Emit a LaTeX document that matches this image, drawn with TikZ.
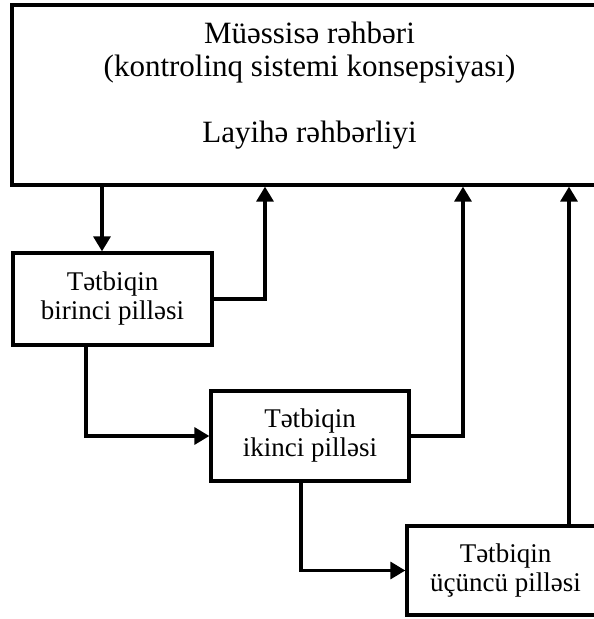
\documentclass[tikz,border=0pt]{standalone}
\usepackage{fontspec}
\setmainfont{Liberation Serif}
\usepackage{tikz}
\usetikzlibrary{arrows.meta}
\usetikzlibrary{positioning}

\tikzset{
  bigbox/.style={draw, line width=3.3pt, minimum width=595pt, minimum height=180pt,
    align=center, inner sep=0pt, text depth=26pt, font=\fontsize{31}{33}\selectfont},
  stagebox/.style={draw, line width=3.3pt, align=center, inner sep=0pt,
    font=\fontsize{27}{29}\selectfont},
  arr/.style={line width=3.3pt, arrows = {-Triangle[length=15pt, width=17pt]}}
}

\begin{document}
\begin{tikzpicture}[x=1pt,y=-1pt]
\clip (0,0) rectangle (594,619);
\node[bigbox] (top) at (309.5,95) {Müəssisə rəhbəri\\(kontrolinq sistemi konsepsiyası)\\[33pt]Layihə rəhbərliyi};
\node[stagebox, minimum width=199pt, minimum height=92pt] (st1) at (112.5,299) {Tətbiqin\\birinci pilləsi};
\node[stagebox, minimum width=198pt, minimum height=90pt] (st2) at (310,436) {Tətbiqin\\ikinci pilləsi};
\node[stagebox, minimum width=197pt, minimum height=89pt] (st3) at (505.5,570.5) {Tətbiqin\\üçüncü pilləsi};
% x positions of the vertical runs
\coordinate (down1) at (102,0);
\coordinate (up1) at (265,0);
\coordinate (turn1) at (86,0);
\coordinate (up2) at (463,0);
\coordinate (turn2) at (301,0);
\coordinate (up3) at (569,0);
\draw[arr] (down1 |- top.south) -- (down1 |- st1.north);
\draw[arr] (st1.east) -| (up1 |- top.south);
\draw[arr] (turn1 |- st1.south) |- (st2.west);
\draw[arr] (st2.east) -| (up2 |- top.south);
\draw[arr] (turn2 |- st2.south) |- (st3.west);
\draw[arr] (up3 |- st3.north) -- (up3 |- top.south);
\end{tikzpicture}
\end{document}
